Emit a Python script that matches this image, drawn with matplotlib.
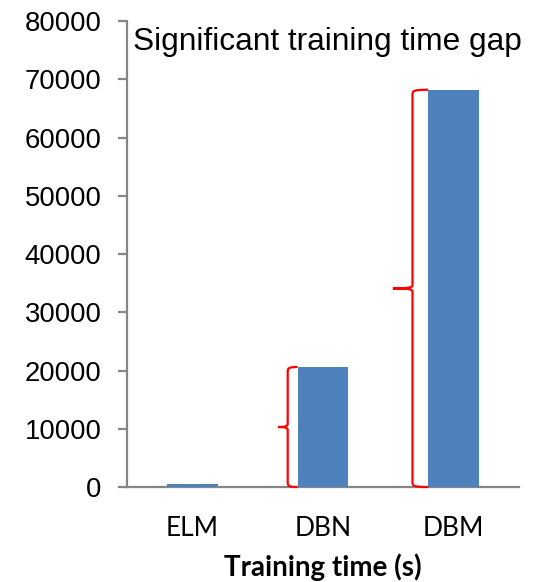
import matplotlib.pyplot as plt
from matplotlib.path import Path
from matplotlib.patches import PathPatch

models = ['ELM', 'DBN', 'DBM']
train_time = [450, 20600, 68200]

# brace: (index of bar, offset of brace line from bar edge, tip length) in category units
braces = [(1, 0.075, 0.075), (2, 0.12, 0.15)]

fig = plt.figure(figsize=(5.5, 5.82), dpi=100)
ax = fig.add_axes([0.2309, 0.1632, 0.7127, 0.8007])

width = 0.39
x = list(range(len(models)))
ax.bar(x, train_time, width=width, color='#4F81BD', zorder=3)

ax.set_xlim(-0.5, 2.5)
ax.set_ylim(0, 80000)
ax.set_yticks(range(0, 80001, 10000))
ax.set_xticks(x)
ax.set_xticklabels(models, family='Lato', fontsize=19)
ax.set_yticklabels([str(v) for v in range(0, 80001, 10000)], family='Liberation Sans', fontsize=19.8)
ax.set_xlabel('Training time (s)', family='Lato', fontsize=20, fontweight='bold', labelpad=8.5)

for s in ['top', 'right']:
    ax.spines[s].set_visible(False)
for s in ['left', 'bottom']:
    ax.spines[s].set_color('#868686')
    ax.spines[s].set_linewidth(1.6)
ax.tick_params(axis='y', length=6.5, width=1.6, color='#868686', direction='out', pad=12)
ax.tick_params(axis='x', length=0, pad=21)

# red curly braces to the left of the bars
for i, off, tip in braces:
    edge = x[i] - width / 2
    lx = edge - off
    top = train_time[i]
    bot = 0
    mid = (top + bot) / 2
    r = 0.03
    ry = 900
    verts = [
        (edge, top), (lx + r * 0.2, top), (lx, top - ry * 0.2), (lx, top - ry),
        (lx, mid + ry * 0.6),
        (lx, mid + ry * 0.1), (lx - tip * 0.3, mid), (lx - tip, mid),
        (lx - tip * 0.3, mid), (lx, mid - ry * 0.1), (lx, mid - ry * 0.6),
        (lx, bot + ry),
        (lx, bot + ry * 0.2), (lx + r * 0.2, bot), (edge, bot),
    ]
    codes = [Path.MOVETO, Path.CURVE4, Path.CURVE4, Path.CURVE4,
             Path.LINETO,
             Path.CURVE4, Path.CURVE4, Path.CURVE4,
             Path.CURVE4, Path.CURVE4, Path.CURVE4,
             Path.LINETO,
             Path.CURVE4, Path.CURVE4, Path.CURVE4]
    ax.add_patch(PathPatch(Path(verts, codes), fill=False, edgecolor='#FF0000',
                           linewidth=1.6, zorder=4, clip_on=False))

ax.text(0.015, 0.955, 'Significant training time gap', transform=ax.transAxes,
        family='Liberation Sans', fontsize=22.8, va='center', ha='left')

fig.savefig('out.png', dpi=100)
